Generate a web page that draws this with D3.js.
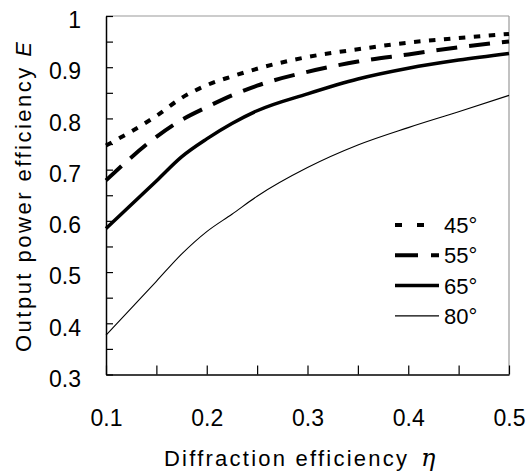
<!DOCTYPE html>
<html lang="en">
<head>
  <meta charset="UTF-8">
  <title>Output power efficiency</title>
  <script src="https://d3js.org/d3.v7.min.js"></script>
  <style>
    body { margin: 0; background: #fff; }
    text { font-family: "Liberation Sans", Arial, sans-serif; fill: #000; }
  </style>
</head>
<body>
  <div id="my_dataviz"></div>
  <script>

    // diffraction efficiency (x) and output power efficiency per angle
    var eta = [0.1, 0.15, 0.175, 0.2, 0.225, 0.25, 0.3, 0.35, 0.4, 0.45, 0.5];
    var e45 = [0.747, 0.805, 0.84, 0.865, 0.882, 0.897, 0.92, 0.935, 0.948, 0.957, 0.965];
    var e55 = [0.679, 0.764, 0.797, 0.822, 0.845, 0.864, 0.891, 0.911, 0.925, 0.939, 0.95];
    var e65 = [0.585, 0.678, 0.725, 0.76, 0.79, 0.815, 0.848, 0.877, 0.898, 0.914, 0.927];
    var e80 = [0.377, 0.482, 0.535, 0.579, 0.613, 0.648, 0.704, 0.748, 0.782, 0.813, 0.845];
    var angles = ["45°", "55°", "65°", "80°"];
    var xTicks = [0.1, 0.15, 0.2, 0.25, 0.3, 0.35, 0.4, 0.45, 0.5];
    var yTicks = [0.3, 0.35, 0.4, 0.45, 0.5, 0.55, 0.6, 0.65, 0.7, 0.75, 0.8, 0.85, 0.9, 0.95, 1];

    var W = 529, H = 474;
    var margin = { top: 16, right: 20, bottom: 99.5, left: 106 },
      width = 509 - margin.left,
      height = 374.5 - margin.top;

    var svg = d3.select("#my_dataviz")
      .append("svg")
      .attr("width", W)
      .attr("height", H)
      .append("g")
      .attr("transform", "translate(" + margin.left + "," + margin.top + ")");

    var x = d3.scaleLinear().domain([0.1, 0.5]).range([0, width]);
    var y = d3.scaleLinear().domain([0.3, 1]).range([height, 0]);

    // frame: top and right in thin gray
    svg.append("line")
      .attr("x1", 0).attr("x2", width).attr("y1", 0).attr("y2", 0)
      .attr("stroke", "#999").attr("stroke-width", 1.2);
    svg.append("line")
      .attr("x1", width).attr("x2", width).attr("y1", 0).attr("y2", height)
      .attr("stroke", "#999").attr("stroke-width", 1.2);

    // X axis (ticks point inward)
    var xAxis = svg.append("g")
      .attr("transform", "translate(0," + height + ")")
      .call(d3.axisBottom(x)
        .tickValues(xTicks)
        .tickSizeInner(-9)
        .tickSizeOuter(0)
        .tickPadding(35)
        .tickFormat(function (d) {
          return Math.round(d * 100) % 10 === 0 ? d3.format(".1f")(d) : "";
        }));
    xAxis.selectAll("text").attr("font-size", 23).attr("font-family", null).attr("dy", "0.71em");

    // Y axis
    var yAxis = svg.append("g")
      .call(d3.axisLeft(y)
        .tickValues(yTicks)
        .tickSizeInner(-7)
        .tickSizeOuter(0)
        .tickPadding(25)
        .tickFormat(function (d) {
          if (d === 1) return "1";
          return Math.round(d * 100) % 10 === 0 ? d3.format(".1f")(d) : "";
        }));
    yAxis.selectAll("text").attr("font-size", 23).attr("font-family", null).attr("dy", "0.51em");

    svg.selectAll(".domain").attr("stroke", "#000").attr("stroke-width", 1.5);
    svg.selectAll(".tick line").attr("stroke", "#000").attr("stroke-width", 1.2);

    // series
    var series = [
      { name: angles[0], values: e45, width: 4, dash: "6.5,8.5", legendDash: "7,15" },
      { name: angles[1], values: e55, width: 4, dash: "21,12", legendDash: "23,13" },
      { name: angles[2], values: e65, width: 3.5, dash: null, legendDash: null },
      { name: angles[3], values: e80, width: 1.1, dash: null, legendDash: null }
    ];

    var line = d3.line()
      .curve(d3.curveMonotoneX)
      .x(function (d) { return x(d[0]); })
      .y(function (d) { return y(d[1]); });

    svg.append("g")
      .selectAll("path")
      .data(series)
      .enter()
      .append("path")
      .attr("d", function (s) { return line(eta.map(function (e, i) { return [e, s.values[i]]; })); })
      .attr("fill", "none")
      .attr("stroke", "#000")
      .attr("stroke-width", function (s) { return s.width; })
      .attr("stroke-dasharray", function (s) { return s.dash; });

    // legend
    var legend = svg.append("g")
      .attr("transform", "translate(" + (395 - margin.left) + "," + (225 - margin.top) + ")");
    var item = legend.selectAll("g")
      .data(series)
      .enter()
      .append("g")
      .attr("transform", function (s, i) { return "translate(0," + (i * 30.3) + ")"; });
    item.append("line")
      .attr("x1", 0).attr("x2", 44)
      .attr("stroke", "#000")
      .attr("stroke-width", function (s) { return s.width; })
      .attr("stroke-dasharray", function (s) { return s.legendDash; });
    item.append("text")
      .attr("x", 49)
      .attr("dy", "0.36em")
      .attr("font-size", 22)
      .text(function (s) { return s.name; });

    // axis titles
    var xt = d3.select("svg").append("g");
    xt.append("text")
      .attr("x", 164)
      .attr("y", 466)
      .attr("font-size", 22)
      .attr("textLength", 243)
      .attr("lengthAdjust", "spacing")
      .text("Diffraction efficiency");
    xt.append("text")
      .attr("x", 421)
      .attr("y", 466)
      .attr("font-size", 24)
      .attr("font-style", "italic")
      .style("font-family", "'DejaVu Serif', serif")
      .text("η");

    var yt = d3.select("svg").append("text")
      .attr("transform", "translate(31,352) rotate(-90)")
      .attr("font-size", 22)
      .attr("textLength", 310)
      .attr("lengthAdjust", "spacing");
    yt.append("tspan").text("Output power efficiency ");
    yt.append("tspan").attr("font-style", "italic").text("E");

  </script>
</body>
</html>
